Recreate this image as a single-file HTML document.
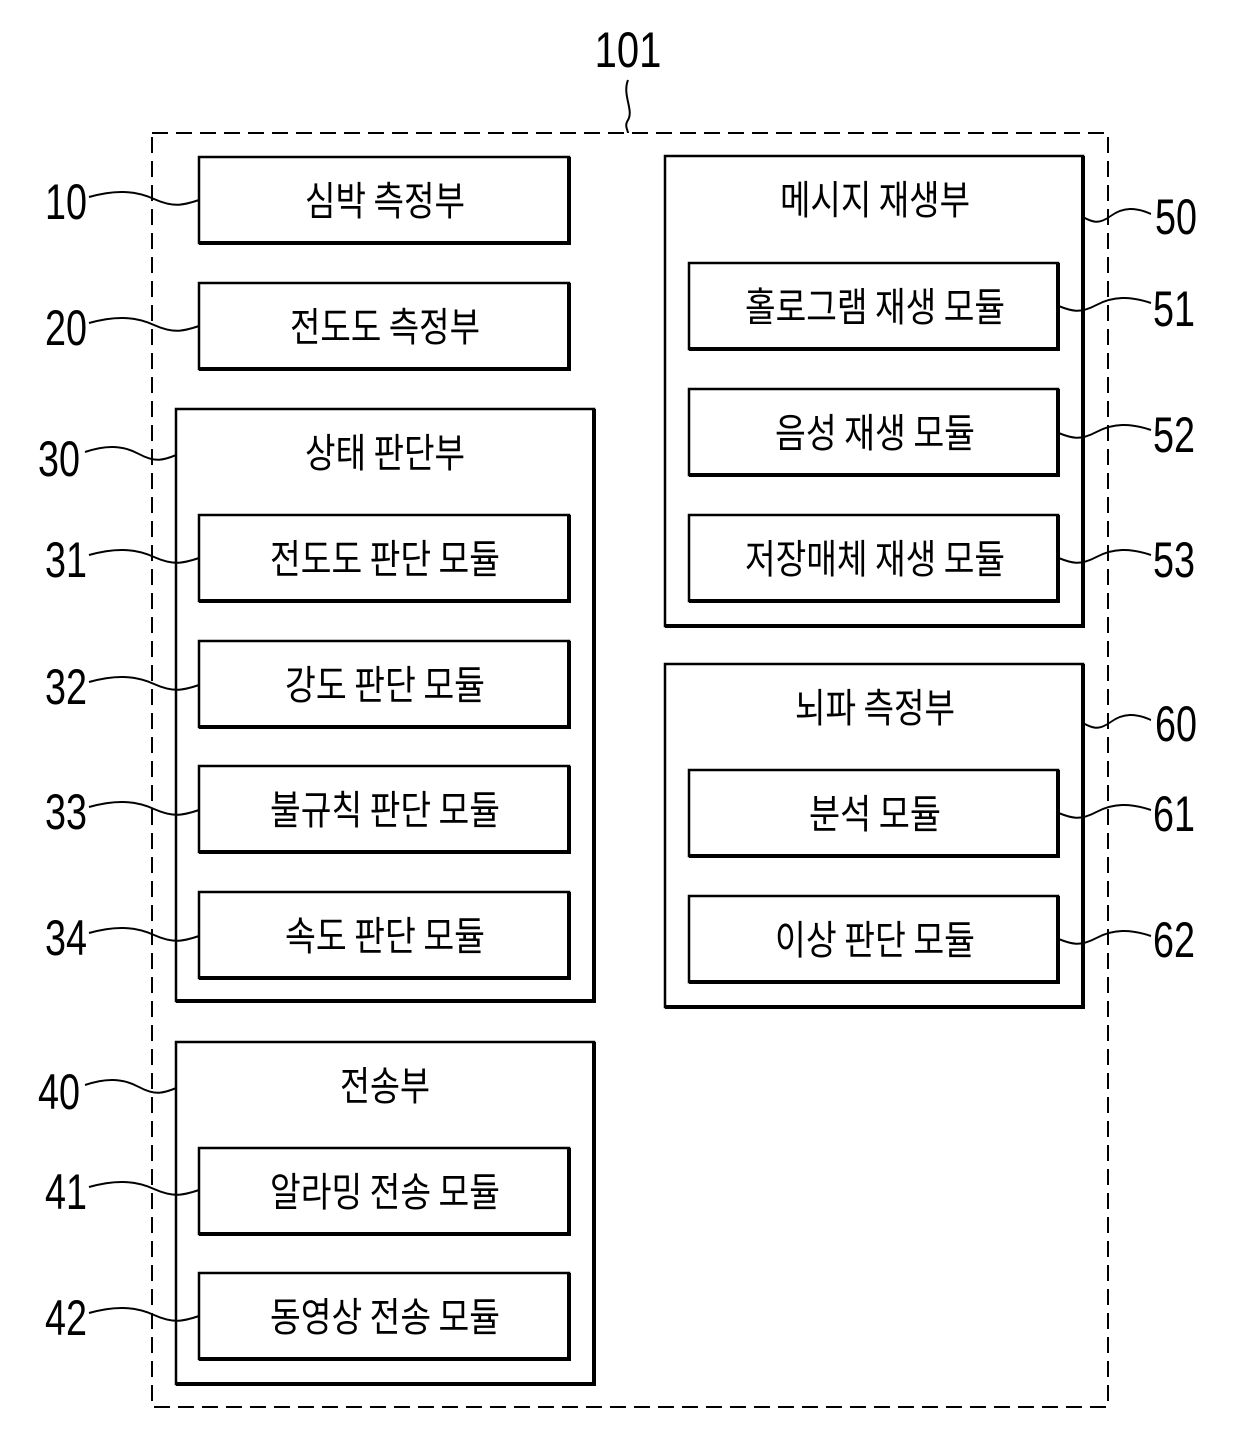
<!DOCTYPE html>
<html><head><meta charset="utf-8"><style>
html,body{margin:0;padding:0;background:#fff}
svg{display:block}
.k{font-family:"Noto Sans CJK KR","NanumGothic",sans-serif;font-size:40px;fill:#000;text-anchor:middle;dominant-baseline:central}
.n{font-family:"Liberation Sans Narrow","Liberation Sans",sans-serif;font-size:50px;fill:#000;text-anchor:middle;dominant-baseline:central}
</style></head><body>
<svg width="1240" height="1455" viewBox="0 0 1240 1455" xmlns="http://www.w3.org/2000/svg">
<defs>
<path id="w" d="M0,0 C25,-7 45,-7 65,2 S95,8 110,3" fill="none" stroke="#000" stroke-width="2"/>
<g id="b"></g>
</defs>
<rect x="152" y="133" width="956" height="1274" fill="none" stroke="#000" stroke-width="2" stroke-dasharray="16,8"/>
<text class="n" x="628" y="50" transform="translate(628,50) scale(0.8,1) translate(-628,-50)">101</text>
<path d="M628,80 C622,95 634,110 628,120 C624,126 628,130 628,133" fill="none" stroke="#000" stroke-width="2"/>

<g fill="none" stroke="#000">
<!-- boxes: thin top/left, thick bottom/right -->
<g stroke-width="2.5">
<rect x="199" y="157" width="370" height="86"/>
<rect x="199" y="283" width="370" height="86"/>
<rect x="176" y="409" width="418" height="592"/>
<rect x="199" y="515" width="370" height="86"/>
<rect x="199" y="641" width="370" height="86"/>
<rect x="199" y="766" width="370" height="86"/>
<rect x="199" y="892" width="370" height="86"/>
<rect x="176" y="1042" width="418" height="342"/>
<rect x="199" y="1148" width="370" height="86"/>
<rect x="199" y="1273" width="370" height="86"/>
<rect x="665" y="156" width="418" height="470"/>
<rect x="689" y="263" width="369" height="86"/>
<rect x="689" y="389" width="369" height="86"/>
<rect x="689" y="515" width="369" height="86"/>
<rect x="665" y="664" width="418" height="343"/>
<rect x="689" y="770" width="369" height="86"/>
<rect x="689" y="896" width="369" height="86"/>
</g>
<g stroke-width="4">
<path d="M199,243H569V157"/><path d="M199,369H569V283"/><path d="M176,1001H594V409"/>
<path d="M199,601H569V515"/><path d="M199,727H569V641"/><path d="M199,852H569V766"/><path d="M199,978H569V892"/>
<path d="M176,1384H594V1042"/><path d="M199,1234H569V1148"/><path d="M199,1359H569V1273"/>
<path d="M665,626H1083V156"/><path d="M689,349H1058V263"/><path d="M689,475H1058V389"/><path d="M689,601H1058V515"/>
<path d="M665,1007H1083V664"/><path d="M689,856H1058V770"/><path d="M689,982H1058V896"/>
</g>
</g>

<!-- left squiggles -->
<use href="#w" transform="translate(89,197)"/>
<use href="#w" transform="translate(89,323)"/>
<use href="#w" transform="translate(85,452) scale(0.83,1)"/>
<use href="#w" transform="translate(89,555)"/>
<use href="#w" transform="translate(89,682)"/>
<use href="#w" transform="translate(89,807)"/>
<use href="#w" transform="translate(89,933)"/>
<use href="#w" transform="translate(85,1085) scale(0.83,1)"/>
<use href="#w" transform="translate(89,1187)"/>
<use href="#w" transform="translate(89,1313)"/>
<!-- right squiggles -->
<use href="#w" transform="translate(1151,214) scale(-0.62,1)"/>
<use href="#w" transform="translate(1151,303) scale(-0.84,1)"/>
<use href="#w" transform="translate(1151,430) scale(-0.84,1)"/>
<use href="#w" transform="translate(1151,555) scale(-0.84,1)"/>
<use href="#w" transform="translate(1151,720) scale(-0.62,1)"/>
<use href="#w" transform="translate(1151,810) scale(-0.84,1)"/>
<use href="#w" transform="translate(1151,936) scale(-0.84,1)"/>

<!-- numbers -->
<g class="n">
<text class="n" x="66" y="202" textLength="42" lengthAdjust="spacingAndGlyphs">10</text>
<text class="n" x="66" y="328" textLength="42" lengthAdjust="spacingAndGlyphs">20</text>
<text class="n" x="59" y="459" textLength="42" lengthAdjust="spacingAndGlyphs">30</text>
<text class="n" x="66" y="560" textLength="42" lengthAdjust="spacingAndGlyphs">31</text>
<text class="n" x="66" y="687" textLength="42" lengthAdjust="spacingAndGlyphs">32</text>
<text class="n" x="66" y="812" textLength="42" lengthAdjust="spacingAndGlyphs">33</text>
<text class="n" x="66" y="938" textLength="42" lengthAdjust="spacingAndGlyphs">34</text>
<text class="n" x="59" y="1092" textLength="42" lengthAdjust="spacingAndGlyphs">40</text>
<text class="n" x="66" y="1192" textLength="42" lengthAdjust="spacingAndGlyphs">41</text>
<text class="n" x="66" y="1318" textLength="42" lengthAdjust="spacingAndGlyphs">42</text>
<text class="n" x="1176" y="217" textLength="42" lengthAdjust="spacingAndGlyphs">50</text>
<text class="n" x="1174" y="309" textLength="42" lengthAdjust="spacingAndGlyphs">51</text>
<text class="n" x="1174" y="435" textLength="42" lengthAdjust="spacingAndGlyphs">52</text>
<text class="n" x="1174" y="560" textLength="42" lengthAdjust="spacingAndGlyphs">53</text>
<text class="n" x="1176" y="724" textLength="42" lengthAdjust="spacingAndGlyphs">60</text>
<text class="n" x="1174" y="814" textLength="42" lengthAdjust="spacingAndGlyphs">61</text>
<text class="n" x="1174" y="940" textLength="42" lengthAdjust="spacingAndGlyphs">62</text>
</g>

<!-- korean labels -->
<text class="k" x="385" y="198" textLength="160" lengthAdjust="spacingAndGlyphs">심박 측정부</text>
<text class="k" x="385" y="324" textLength="190" lengthAdjust="spacingAndGlyphs">전도도 측정부</text>
<text class="k" x="385" y="450" textLength="160" lengthAdjust="spacingAndGlyphs">상태 판단부</text>
<text class="k" x="385" y="556" textLength="230" lengthAdjust="spacingAndGlyphs">전도도 판단 모듈</text>
<text class="k" x="385" y="682" textLength="200" lengthAdjust="spacingAndGlyphs">강도 판단 모듈</text>
<text class="k" x="385" y="807" textLength="230" lengthAdjust="spacingAndGlyphs">불규칙 판단 모듈</text>
<text class="k" x="385" y="933" textLength="200" lengthAdjust="spacingAndGlyphs">속도 판단 모듈</text>
<text class="k" x="385" y="1083" textLength="90" lengthAdjust="spacingAndGlyphs">전송부</text>
<text class="k" x="385" y="1189" textLength="230" lengthAdjust="spacingAndGlyphs">알라밍 전송 모듈</text>
<text class="k" x="385" y="1314" textLength="230" lengthAdjust="spacingAndGlyphs">동영상 전송 모듈</text>
<text class="k" x="875" y="197" textLength="190" lengthAdjust="spacingAndGlyphs">메시지 재생부</text>
<text class="k" x="875" y="304" textLength="260" lengthAdjust="spacingAndGlyphs">홀로그램 재생 모듈</text>
<text class="k" x="875" y="430" textLength="200" lengthAdjust="spacingAndGlyphs">음성 재생 모듈</text>
<text class="k" x="875" y="556" textLength="260" lengthAdjust="spacingAndGlyphs">저장매체 재생 모듈</text>
<text class="k" x="875" y="705" textLength="160" lengthAdjust="spacingAndGlyphs">뇌파 측정부</text>
<text class="k" x="875" y="811" textLength="132" lengthAdjust="spacingAndGlyphs">분석 모듈</text>
<text class="k" x="875" y="937" textLength="200" lengthAdjust="spacingAndGlyphs">이상 판단 모듈</text>
</svg>
</body></html>
